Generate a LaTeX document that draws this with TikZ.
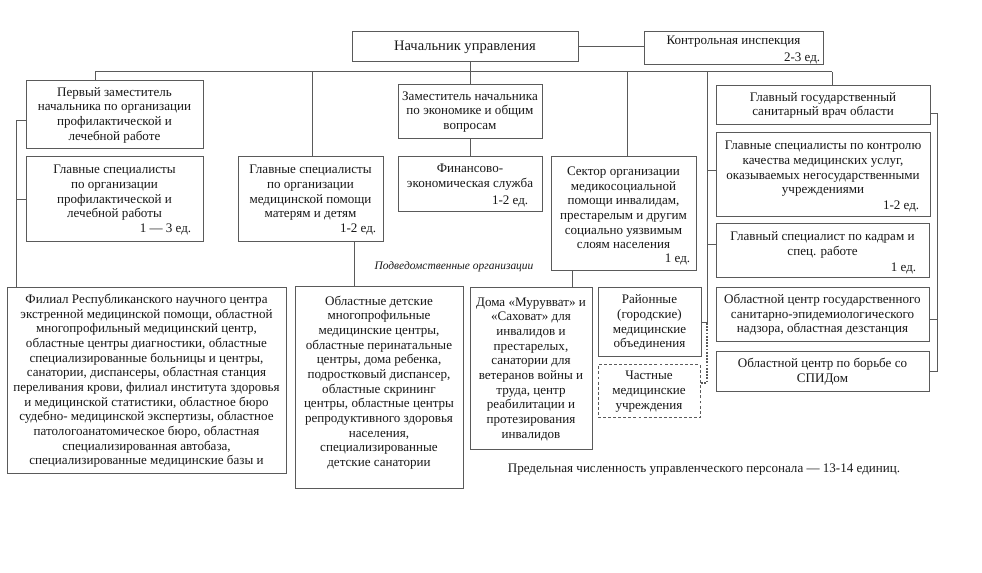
\documentclass[tikz,border=0pt]{standalone}
\usepackage{fontspec}
\setmainfont{Liberation Serif}
\usetikzlibrary{calc}
\definecolor{ln}{RGB}{90,90,90}
\definecolor{tx}{RGB}{25,25,25}
\newcommand\fs{\fontsize{9.8}{11}\selectfont}
\newcommand\bx[6][]{\node[box,#1,minimum width={(#4-#2)*0.75pt},minimum height={(#5-#3)*0.75pt}] (#6) at ({(#2+#4)/2},{(#3+#5)/2})}
\tikzset{
 box/.style={draw=ln,line width=0.75pt,fill=white,inner sep=0pt,text=tx,font=\fs,align=center},
 txt/.style={inner sep=0pt,text=tx,font=\fs,align=center},
 ed/.style={inner sep=0pt,text=tx,font=\fs,anchor=base east},
 conn/.style={draw=ln,line width=0.75pt},
 dotconn/.style={draw=ln,line width=0.85pt,dash pattern=on 1.3pt off 1.1pt},
 dashbox/.style={dash pattern=on 2.2pt off 1.6pt},
}
\begin{document}
\begin{tikzpicture}[x=0.75pt,y=-0.75pt]
\useasboundingbox (0,0) rectangle (982,573);

% top level
\bx[font=\fontsize{10.9}{13}\selectfont]{352}{32}{578}{62}{A} {Начальник управления};
\bx{644}{32}{823}{65}{B} {};
\node[txt] (B-t) at (B.center |- 0,42) {Контрольная инспекция};
\node[ed] (B-ed) at ($(B.south east)+(-3,-4)$) {2-3 ед.};

% left column
\bx{26}{81}{203}{149}{C} {Первый заместитель\\начальника по организации\\профилактической и\\лечебной работе};
\bx{26}{157}{203}{242}{D} {};
\node[txt] (D-t) at (D.center |- 0,193) {Главные специалисты\\по организации\\профилактической и\\лечебной работы};
\node[ed] (D-ed) at ($(D.south east)+(-12,-10)$) {1 — 3 ед.};

\bx{238}{157}{383}{242}{E} {};
\node[txt] (E-t) at (E.center |- 0,193) {Главные специалисты\\по организации\\медицинской помощи\\матерям и детям};
\node[ed] (E-ed) at ($(E.south east)+(-7,-10)$) {1-2 ед.};

\bx{398}{85}{542}{139}{F} {Заместитель начальника\\по экономике и общим\\вопросам};
\bx{398}{157}{542}{212}{G} {};
\node[txt] (G-t) at (G.center |- 0,177) {Финансово-\\экономическая служба};
\node[ed] (G-ed) at ($(G.south east)+(-14,-8)$) {1-2 ед.};

\bx{551}{157}{696}{271}{H} {};
\node[txt] (H-t) at (H.center |- 0,208) {Сектор организации\\медикосоциальной\\помощи инвалидам,\\престарелым и другим\\социально уязвимым\\слоям населения};
\node[ed] (H-ed) at ($(H.south east)+(-6,-9)$) {1 ед.};

% right column
\bx{716}{86}{930}{125}{I} {Главный государственный\\санитарный врач области};
\bx{716}{133}{930}{217}{J} {};
\node[txt] (J-t) at (J.center |- 0,169) {Главные специалисты по контролю\\качества медицинских услуг,\\оказываемых негосударственными\\учреждениями};
\node[ed] (J-ed) at ($(J.south east)+(-11,-8)$) {1-2 ед.};
\bx{716}{224}{929}{278}{K} {};
\node[txt] (K-t) at (K.center |- 0,245) {Главный специалист по кадрам и\\спец. работе};
\node[ed] (K-ed) at ($(K.south east)+(-13,-7)$) {1 ед.};
\bx{716}{288}{929}{342}{L} {Областной центр государственного\\санитарно-эпидемиологического\\надзора, областная дезстанция};
\bx{716}{352}{929}{392}{M} {Областной центр по борьбе со\\СПИДом};

% subordinate organisations
\bx{7}{288}{286}{474}{N} {Филиал Республиканского научного центра\\экстренной медицинской помощи, областной\\многопрофильный медицинский центр,\\областные центры диагностики, областные\\специализированные больницы и центры,\\санатории, диспансеры, областная станция\\переливания крови, филиал института здоровья\\и медицинской статистики, областное бюро\\судебно- медицинской экспертизы, областное\\патологоанатомическое бюро, областная\\специализированная автобаза,\\специализированные медицинские базы и};
\bx{295}{287}{463}{489}{O} {};
\node[txt] (O-t) at (O.center |- 0,382.5) {Областные детские\\многопрофильные\\медицинские центры,\\областные перинатальные\\центры, дома ребенка,\\подростковый диспансер,\\областные скрининг\\центры, областные центры\\репродуктивного здоровья\\населения,\\специализированные\\детские санатории};
\bx{470}{288}{592}{450}{P} {Дома «Мурувват» и\\«Саховат» для\\инвалидов и\\престарелых,\\санатории для\\ветеранов войны и\\труда, центр\\реабилитации и\\протезирования\\инвалидов};
\bx{598}{288}{701}{357}{Q} {Районные\\(городские)\\медицинские\\объединения};
\bx[dashbox]{598}{365}{700}{418}{R} {Частные\\медицинские\\учреждения};

\node[txt,font=\fontsize{8.6}{10}\selectfont\itshape] (sub) at (454,267) {Подведомственные организации};
\node[txt] (foot) at (704,470) {Предельная численность управленческого персонала — 13-14 единиц.};

% connectors
\coordinate (bl) at (95,72);
\coordinate (br) at (832,72);
\coordinate (jE) at (312,72);
\coordinate (jH) at (627,72);
\coordinate (jR) at (707,72);
\coordinate (jRb) at (707,323);
\coordinate (lt) at (16,121);
\coordinate (rb1) at (937,114);
\coordinate (rb2) at (937,372);
\coordinate (dq) at (707,383);

\draw[conn] (A.east) -- (A.east -| B.west);
\draw[conn] (bl) -- (br);
\draw[conn] (F.north |- A.south) -- (F.north);
\draw[conn] (bl) -- (bl |- C.north);
\draw[conn] (jE) -- (jE |- E.north);
\draw[conn] (jH) -- (jH |- H.north);
\draw[conn] (br) -- (br |- I.north);
\draw[conn] (F.south) -- (G.north);
\draw[conn] (jR) -- (jRb) -- (jRb -| Q.east);
\draw[conn] (jR |- 0,171) -- (J.west |- 0,171);
\draw[conn] (jR |- 0,245) -- (K.west |- 0,245);
\draw[dotconn] (jRb) -- (dq) -- (dq -| R.east);
\draw[conn] (C.west |- lt) -- (lt) -- (lt |- N.north);
\draw[conn] (lt |- 0,200) -- (D.west |- 0,200);
\draw[conn] (354,0 |- E.south) -- (354,0 |- O.north);
\draw[conn] (572,0 |- H.south) -- (572,0 |- P.north);
\draw[conn] (I.east |- rb1) -- (rb1) -- (rb2) -- (rb2 -| M.east);
\draw[conn] (rb1 |- 0,320) -- (L.east |- 0,320);
\end{tikzpicture}
\end{document}
